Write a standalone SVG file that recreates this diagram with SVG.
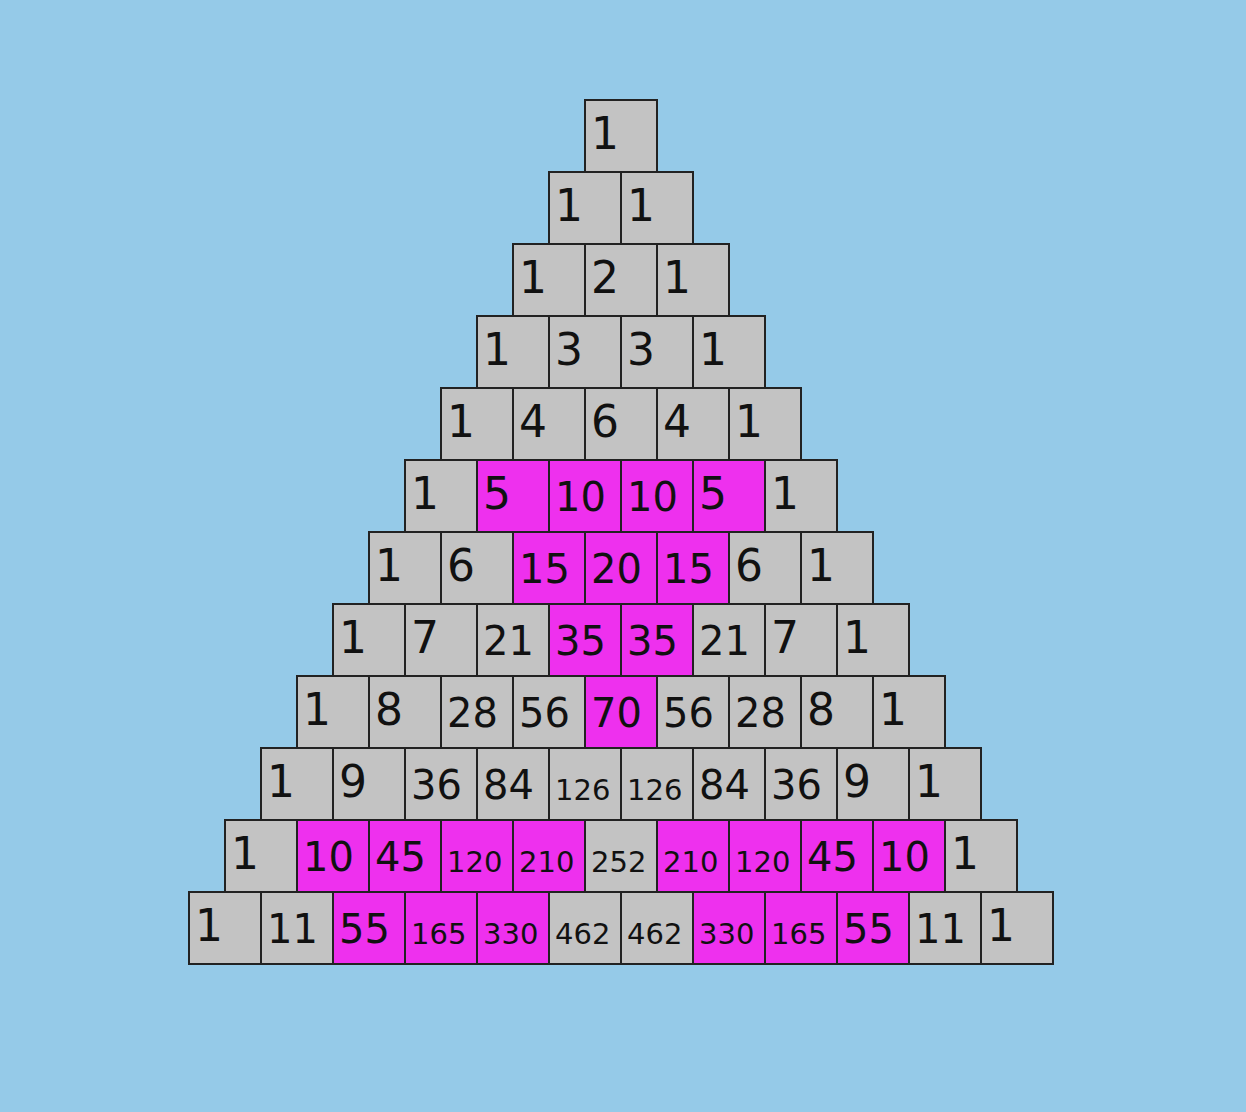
<svg xmlns="http://www.w3.org/2000/svg" width="1246" height="1112" viewBox="0 0 1246 1112">
<style>
rect.c{fill:#c3c3c3;stroke:#222;stroke-width:2}
rect.m{fill:#ee30ee;stroke:#222;stroke-width:2}
text{font-family:"DejaVu Sans","Liberation Sans",sans-serif;fill:#111}
.t1{font-size:44px}
.t2{font-size:40px}
.t3{font-size:29px}
</style>
<rect width="1246" height="1112" fill="#95cae8"/>
<g id="nodes">
<g id="n0-0" transform="translate(585,100)"><rect class="c" width="72" height="72"/><text class="t1" x="6" y="48.5">1</text></g>

<g id="n1-0" transform="translate(549,172)"><rect class="c" width="72" height="72"/><text class="t1" x="6" y="48.5">1</text></g>
<g id="n1-1" transform="translate(621,172)"><rect class="c" width="72" height="72"/><text class="t1" x="6" y="48.5">1</text></g>

<g id="n2-0" transform="translate(513,244)"><rect class="c" width="72" height="72"/><text class="t1" x="6" y="48.5">1</text></g>
<g id="n2-1" transform="translate(585,244)"><rect class="c" width="72" height="72"/><text class="t1" x="6" y="48.5">2</text></g>
<g id="n2-2" transform="translate(657,244)"><rect class="c" width="72" height="72"/><text class="t1" x="6" y="48.5">1</text></g>

<g id="n3-0" transform="translate(477,316)"><rect class="c" width="72" height="72"/><text class="t1" x="6" y="48.5">1</text></g>
<g id="n3-1" transform="translate(549,316)"><rect class="c" width="72" height="72"/><text class="t1" x="6" y="48.5">3</text></g>
<g id="n3-2" transform="translate(621,316)"><rect class="c" width="72" height="72"/><text class="t1" x="6" y="48.5">3</text></g>
<g id="n3-3" transform="translate(693,316)"><rect class="c" width="72" height="72"/><text class="t1" x="6" y="48.5">1</text></g>

<g id="n4-0" transform="translate(441,388)"><rect class="c" width="72" height="72"/><text class="t1" x="6" y="48.5">1</text></g>
<g id="n4-1" transform="translate(513,388)"><rect class="c" width="72" height="72"/><text class="t1" x="6" y="48.5">4</text></g>
<g id="n4-2" transform="translate(585,388)"><rect class="c" width="72" height="72"/><text class="t1" x="6" y="48.5">6</text></g>
<g id="n4-3" transform="translate(657,388)"><rect class="c" width="72" height="72"/><text class="t1" x="6" y="48.5">4</text></g>
<g id="n4-4" transform="translate(729,388)"><rect class="c" width="72" height="72"/><text class="t1" x="6" y="48.5">1</text></g>

<g id="n5-0" transform="translate(405,460)"><rect class="c" width="72" height="72"/><text class="t1" x="6" y="48.5">1</text></g>
<g id="n5-1" transform="translate(477,460)"><rect class="m" width="72" height="72"/><text class="t1" x="6" y="48.5">5</text></g>
<g id="n5-2" transform="translate(549,460)"><rect class="m" width="72" height="72"/><text class="t2" x="6" y="50.7">10</text></g>
<g id="n5-3" transform="translate(621,460)"><rect class="m" width="72" height="72"/><text class="t2" x="6" y="50.7">10</text></g>
<g id="n5-4" transform="translate(693,460)"><rect class="m" width="72" height="72"/><text class="t1" x="6" y="48.5">5</text></g>
<g id="n5-5" transform="translate(765,460)"><rect class="c" width="72" height="72"/><text class="t1" x="6" y="48.5">1</text></g>

<g id="n6-0" transform="translate(369,532)"><rect class="c" width="72" height="72"/><text class="t1" x="6" y="48.5">1</text></g>
<g id="n6-1" transform="translate(441,532)"><rect class="c" width="72" height="72"/><text class="t1" x="6" y="48.5">6</text></g>
<g id="n6-2" transform="translate(513,532)"><rect class="m" width="72" height="72"/><text class="t2" x="6" y="50.7">15</text></g>
<g id="n6-3" transform="translate(585,532)"><rect class="m" width="72" height="72"/><text class="t2" x="6" y="50.7">20</text></g>
<g id="n6-4" transform="translate(657,532)"><rect class="m" width="72" height="72"/><text class="t2" x="6" y="50.7">15</text></g>
<g id="n6-5" transform="translate(729,532)"><rect class="c" width="72" height="72"/><text class="t1" x="6" y="48.5">6</text></g>
<g id="n6-6" transform="translate(801,532)"><rect class="c" width="72" height="72"/><text class="t1" x="6" y="48.5">1</text></g>

<g id="n7-0" transform="translate(333,604)"><rect class="c" width="72" height="72"/><text class="t1" x="6" y="48.5">1</text></g>
<g id="n7-1" transform="translate(405,604)"><rect class="c" width="72" height="72"/><text class="t1" x="6" y="48.5">7</text></g>
<g id="n7-2" transform="translate(477,604)"><rect class="c" width="72" height="72"/><text class="t2" x="6" y="50.7">21</text></g>
<g id="n7-3" transform="translate(549,604)"><rect class="m" width="72" height="72"/><text class="t2" x="6" y="50.7">35</text></g>
<g id="n7-4" transform="translate(621,604)"><rect class="m" width="72" height="72"/><text class="t2" x="6" y="50.7">35</text></g>
<g id="n7-5" transform="translate(693,604)"><rect class="c" width="72" height="72"/><text class="t2" x="6" y="50.7">21</text></g>
<g id="n7-6" transform="translate(765,604)"><rect class="c" width="72" height="72"/><text class="t1" x="6" y="48.5">7</text></g>
<g id="n7-7" transform="translate(837,604)"><rect class="c" width="72" height="72"/><text class="t1" x="6" y="48.5">1</text></g>

<g id="n8-0" transform="translate(297,676)"><rect class="c" width="72" height="72"/><text class="t1" x="6" y="48.5">1</text></g>
<g id="n8-1" transform="translate(369,676)"><rect class="c" width="72" height="72"/><text class="t1" x="6" y="48.5">8</text></g>
<g id="n8-2" transform="translate(441,676)"><rect class="c" width="72" height="72"/><text class="t2" x="6" y="50.7">28</text></g>
<g id="n8-3" transform="translate(513,676)"><rect class="c" width="72" height="72"/><text class="t2" x="6" y="50.7">56</text></g>
<g id="n8-4" transform="translate(585,676)"><rect class="m" width="72" height="72"/><text class="t2" x="6" y="50.7">70</text></g>
<g id="n8-5" transform="translate(657,676)"><rect class="c" width="72" height="72"/><text class="t2" x="6" y="50.7">56</text></g>
<g id="n8-6" transform="translate(729,676)"><rect class="c" width="72" height="72"/><text class="t2" x="6" y="50.7">28</text></g>
<g id="n8-7" transform="translate(801,676)"><rect class="c" width="72" height="72"/><text class="t1" x="6" y="48.5">8</text></g>
<g id="n8-8" transform="translate(873,676)"><rect class="c" width="72" height="72"/><text class="t1" x="6" y="48.5">1</text></g>

<g id="n9-0" transform="translate(261,748)"><rect class="c" width="72" height="72"/><text class="t1" x="6" y="48.5">1</text></g>
<g id="n9-1" transform="translate(333,748)"><rect class="c" width="72" height="72"/><text class="t1" x="6" y="48.5">9</text></g>
<g id="n9-2" transform="translate(405,748)"><rect class="c" width="72" height="72"/><text class="t2" x="6" y="50.7">36</text></g>
<g id="n9-3" transform="translate(477,748)"><rect class="c" width="72" height="72"/><text class="t2" x="6" y="50.7">84</text></g>
<g id="n9-4" transform="translate(549,748)"><rect class="c" width="72" height="72"/><text class="t3" x="6" y="52">126</text></g>
<g id="n9-5" transform="translate(621,748)"><rect class="c" width="72" height="72"/><text class="t3" x="6" y="52">126</text></g>
<g id="n9-6" transform="translate(693,748)"><rect class="c" width="72" height="72"/><text class="t2" x="6" y="50.7">84</text></g>
<g id="n9-7" transform="translate(765,748)"><rect class="c" width="72" height="72"/><text class="t2" x="6" y="50.7">36</text></g>
<g id="n9-8" transform="translate(837,748)"><rect class="c" width="72" height="72"/><text class="t1" x="6" y="48.5">9</text></g>
<g id="n9-9" transform="translate(909,748)"><rect class="c" width="72" height="72"/><text class="t1" x="6" y="48.5">1</text></g>

<g id="n10-0" transform="translate(225,820)"><rect class="c" width="72" height="72"/><text class="t1" x="6" y="48.5">1</text></g>
<g id="n10-1" transform="translate(297,820)"><rect class="m" width="72" height="72"/><text class="t2" x="6" y="50.7">10</text></g>
<g id="n10-2" transform="translate(369,820)"><rect class="m" width="72" height="72"/><text class="t2" x="6" y="50.7">45</text></g>
<g id="n10-3" transform="translate(441,820)"><rect class="m" width="72" height="72"/><text class="t3" x="6" y="52">120</text></g>
<g id="n10-4" transform="translate(513,820)"><rect class="m" width="72" height="72"/><text class="t3" x="6" y="52">210</text></g>
<g id="n10-5" transform="translate(585,820)"><rect class="c" width="72" height="72"/><text class="t3" x="6" y="52">252</text></g>
<g id="n10-6" transform="translate(657,820)"><rect class="m" width="72" height="72"/><text class="t3" x="6" y="52">210</text></g>
<g id="n10-7" transform="translate(729,820)"><rect class="m" width="72" height="72"/><text class="t3" x="6" y="52">120</text></g>
<g id="n10-8" transform="translate(801,820)"><rect class="m" width="72" height="72"/><text class="t2" x="6" y="50.7">45</text></g>
<g id="n10-9" transform="translate(873,820)"><rect class="m" width="72" height="72"/><text class="t2" x="6" y="50.7">10</text></g>
<g id="n10-10" transform="translate(945,820)"><rect class="c" width="72" height="72"/><text class="t1" x="6" y="48.5">1</text></g>

<g id="n11-0" transform="translate(189,892)"><rect class="c" width="72" height="72"/><text class="t1" x="6" y="48.5">1</text></g>
<g id="n11-1" transform="translate(261,892)"><rect class="c" width="72" height="72"/><text class="t2" x="6" y="50.7">11</text></g>
<g id="n11-2" transform="translate(333,892)"><rect class="m" width="72" height="72"/><text class="t2" x="6" y="50.7">55</text></g>
<g id="n11-3" transform="translate(405,892)"><rect class="m" width="72" height="72"/><text class="t3" x="6" y="52">165</text></g>
<g id="n11-4" transform="translate(477,892)"><rect class="m" width="72" height="72"/><text class="t3" x="6" y="52">330</text></g>
<g id="n11-5" transform="translate(549,892)"><rect class="c" width="72" height="72"/><text class="t3" x="6" y="52">462</text></g>
<g id="n11-6" transform="translate(621,892)"><rect class="c" width="72" height="72"/><text class="t3" x="6" y="52">462</text></g>
<g id="n11-7" transform="translate(693,892)"><rect class="m" width="72" height="72"/><text class="t3" x="6" y="52">330</text></g>
<g id="n11-8" transform="translate(765,892)"><rect class="m" width="72" height="72"/><text class="t3" x="6" y="52">165</text></g>
<g id="n11-9" transform="translate(837,892)"><rect class="m" width="72" height="72"/><text class="t2" x="6" y="50.7">55</text></g>
<g id="n11-10" transform="translate(909,892)"><rect class="c" width="72" height="72"/><text class="t2" x="6" y="50.7">11</text></g>
<g id="n11-11" transform="translate(981,892)"><rect class="c" width="72" height="72"/><text class="t1" x="6" y="48.5">1</text></g>
</g>
<g id="connectors"></g>
</svg>
